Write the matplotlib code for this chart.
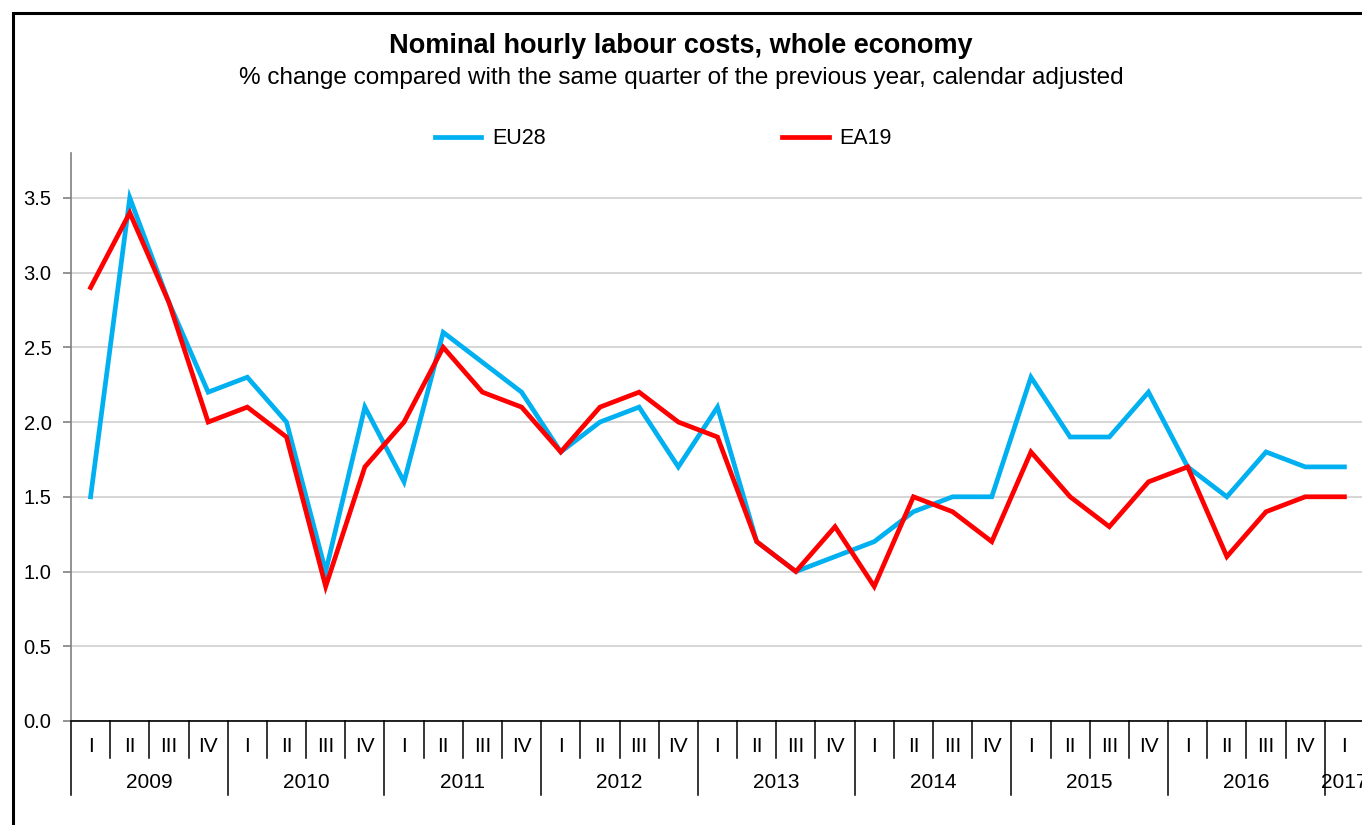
import matplotlib
matplotlib.use('Agg')
import matplotlib.pyplot as plt
from matplotlib.patches import Rectangle
import matplotlib.transforms as mtransforms

plt.rcParams.update({'font.family': ['Liberation Sans', 'DejaVu Sans'], 'font.size': 14})

# Data
years = ['2009', '2010', '2011', '2012', '2013', '2014', '2015', '2016', '2017']
quarters = ['I', 'II', 'III', 'IV']
eu28 = [1.5, 3.5, 2.8, 2.2,
        2.3, 2.0, 1.0, 2.1,
        1.6, 2.6, 2.4, 2.2,
        1.8, 2.0, 2.1, 1.7,
        2.1, 1.2, 1.0, 1.1,
        1.2, 1.4, 1.5, 1.5,
        2.3, 1.9, 1.9, 2.2,
        1.7, 1.5, 1.8, 1.7,
        1.7]
ea19 = [2.9, 3.4, 2.8, 2.0,
        2.1, 1.9, 0.9, 1.7,
        2.0, 2.5, 2.2, 2.1,
        1.8, 2.1, 2.2, 2.0,
        1.9, 1.2, 1.0, 1.3,
        0.9, 1.5, 1.4, 1.2,
        1.8, 1.5, 1.3, 1.6,
        1.7, 1.1, 1.4, 1.5,
        1.5]
yticks = [0.0, 0.5, 1.0, 1.5, 2.0, 2.5, 3.0, 3.5]

n = len(eu28)
x = list(range(n))

fig = plt.figure(figsize=(13.62, 8.25), dpi=100)
ax = fig.add_axes([71 / 1362, 1 - 721 / 825, 1293 / 1362, 568 / 825])

# Outer chart frame (runs off the right/bottom of the image)
fig.add_artist(Rectangle((13 / 1362, -0.2), 1.5, 1.2 - 13 / 825,
                         transform=fig.transFigure, fill=False,
                         edgecolor='black', linewidth=2.2, clip_on=False))

ax.plot(x, eu28, color='#00B0F0', linewidth=3.4, label='EU28', solid_joinstyle='miter')
ax.plot(x, ea19, color='#FF0000', linewidth=3.4, label='EA19', solid_joinstyle='miter')

ax.set_xlim(-0.5, n - 0.5)
ax.set_ylim(0, 3.8)
ax.set_yticks(yticks)
ax.set_yticklabels(['%.1f' % v for v in yticks])
ax.yaxis.grid(True, color='#D0D0D0', linewidth=1.2)
ax.set_axisbelow(True)

for s in ['top', 'right']:
    ax.spines[s].set_visible(False)
ax.spines['left'].set_color('#808080')
ax.spines['left'].set_linewidth(1.2)
ax.spines['bottom'].set_color('black')
ax.spines['bottom'].set_linewidth(1.2)
ax.tick_params(axis='y', direction='out', length=6, width=1.2, color='#808080', pad=8, labelsize=14.5)
ax.set_xticks([])

# Two-level category axis: quarters and years
trans = mtransforms.blended_transform_factory(ax.transData, ax.transAxes)
q_bottom = -37 / 568
y_bottom = -74 / 568
for i in range(n):
    ax.text(i, -25 / 568, quarters[i % 4], transform=trans, ha='center', va='center', fontsize=15)
    if i > 0:
        bottom = y_bottom if i % 4 == 0 else q_bottom
        ax.plot([i - 0.5, i - 0.5], [0, bottom], transform=trans, color='black',
                linewidth=1.1, clip_on=False)
ax.plot([-0.5, -0.5], [0, y_bottom], transform=trans, color='black', linewidth=1.1, clip_on=False)
for k, yr in enumerate(years):
    first = 4 * k
    last = min(4 * k + 3, n - 1)
    ax.text((first + last) / 2, -62 / 568, yr, transform=trans, ha='center', va='center', fontsize=15)

fig.text(0.5, 1 - 46 / 825, 'Nominal hourly labour costs, whole economy',
         ha='center', va='center', fontsize=19.5, fontweight='bold')
fig.text(0.5, 1 - 78 / 825,
         '% change compared with the same quarter of the previous year, calendar adjusted',
         ha='center', va='center', fontsize=17.5)

fig.legend(loc='center left', bbox_to_anchor=(435 / 1362, 1 - 139 / 825), ncol=2,
           frameon=False, borderpad=0, borderaxespad=0, handlelength=2.15,
           handletextpad=0.5, columnspacing=11.0, fontsize=15.5)

plt.savefig('out.png', dpi=100)
